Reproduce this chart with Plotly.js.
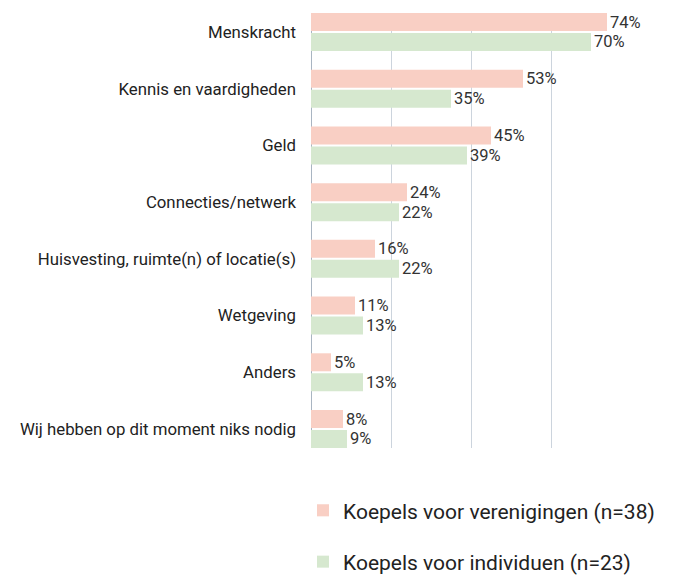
<!DOCTYPE html>
<html>
<head>
<meta charset="utf-8">
<script src="https://cdn.plot.ly/plotly-3.0.1.min.js"></script>
<style>html,body{margin:0;padding:0;background:#fff}#chart{width:695px;height:576px}</style>
</head>
<body>
<div id="chart"></div>
<script>
var categories = ["Menskracht", "Kennis en vaardigheden", "Geld", "Connecties/netwerk",
  "Huisvesting, ruimte(n) of locatie(s)", "Wetgeving", "Anders", "Wij hebben op dit moment niks nodig"];
var verenigingen = [74, 53, 45, 24, 16, 11, 5, 8];
var individuen = [70, 35, 39, 22, 22, 13, 13, 9];
var seriesNames = ["Koepels voor verenigingen (n=38)", "Koepels voor individuen (n=23)"];
var colors = ["#F9CFC4", "#D6E8CF"];

function pct(a){ return a.map(function(v){ return v + "%"; }); }

var font = "Roboto, 'Open Sans', sans-serif";
var traces = [
  {type: "bar", orientation: "h", name: seriesNames[0], y: categories, x: verenigingen,
   text: pct(verenigingen), textposition: "outside", cliponaxis: false, constraintext: "none",
   textfont: {family: font, size: 16.5, color: "#333"},
   marker: {color: colors[0]}, legendgroup: "a", hoverinfo: "none"},
  {type: "bar", orientation: "h", name: seriesNames[1], y: categories, x: individuen,
   text: pct(individuen), textposition: "outside", cliponaxis: false, constraintext: "none",
   textfont: {family: font, size: 16.5, color: "#333"},
   marker: {color: colors[1]}, legendgroup: "b", hoverinfo: "none"}
];

var layout = {
  width: 695, height: 576,
  margin: {l: 311, r: 64, t: 13, b: 128, autoexpand: false},
  paper_bgcolor: "#fff", plot_bgcolor: "#fff",
  font: {family: font, size: 16.8, color: "#222"},
  barmode: "group", bargap: 0.295, bargroupgap: 0.1,
  xaxis: {range: [0, 80], dtick: 20, showgrid: true, gridcolor: "#CCD4DD", gridwidth: 1,
          showticklabels: false, zeroline: true, zerolinecolor: "#A9B5C2", zerolinewidth: 1,
          showline: false, fixedrange: true, automargin: false},
  yaxis: {type: "category", range: [7.335, -0.335], showgrid: false, zeroline: false,
          ticks: "", ticklabelstandoff: 14, tickfont: {family: font, size: 16.8, color: "#222"},
          fixedrange: true, automargin: false},
  showlegend: true,
  legend: {orientation: "v", x: -0.025, xanchor: "left", y: -0.097, yanchor: "top",
           font: {family: font, size: 21, color: "#222"}, tracegroupgap: 21,
           traceorder: "grouped", itemwidth: 30}
};

Plotly.newPlot("chart", traces, layout, {displayModeBar: false, staticPlot: true});
</script>
</body>
</html>
